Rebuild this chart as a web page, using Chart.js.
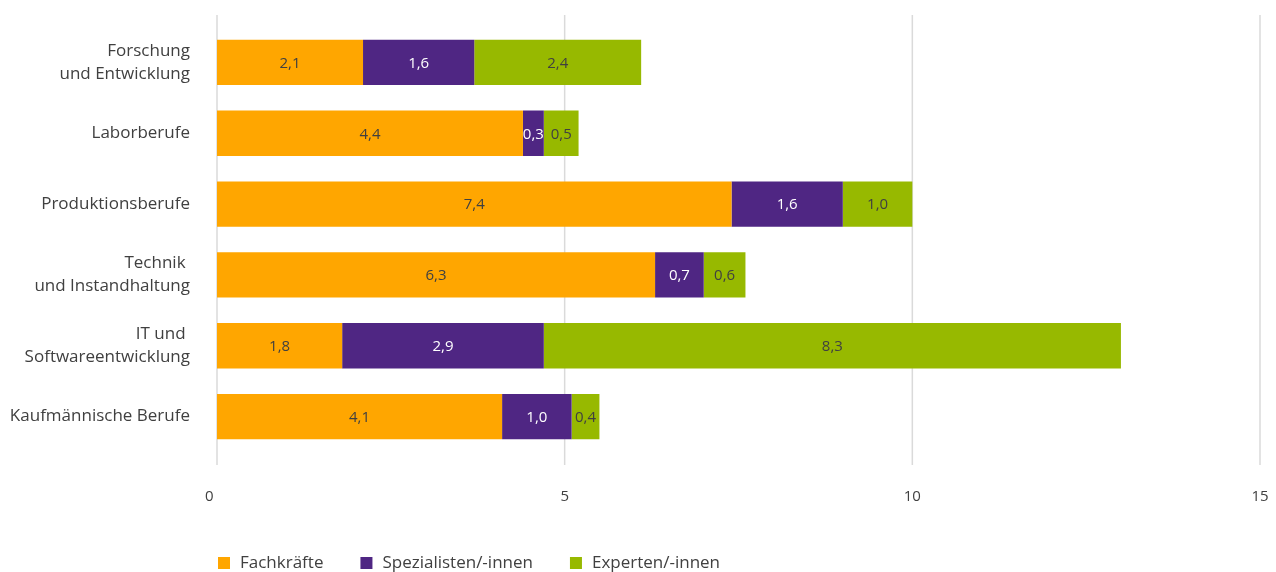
<!DOCTYPE html>
<html lang="de">
<head>
<meta charset="utf-8">
<title>Engpassberufe nach Anforderungsniveau</title>
<script src="https://cdn.jsdelivr.net/npm/chart.js@4.4.1/dist/chart.umd.min.js"></script>
<style>
  html, body { margin: 0; padding: 0; background: #ffffff; }
  #wrap { width: 1276px; height: 572px; position: relative; }
</style>
</head>
<body>
<div id="wrap"><canvas id="chart"></canvas></div>
<script>
// Berufsgruppen (mehrzeilige Beschriftungen als Arrays)
const categories = [
  ['Forschung', 'und Entwicklung'],
  'Laborberufe',
  'Produktionsberufe',
  ['Technik ', 'und Instandhaltung'],
  ['IT und ', 'Softwareentwicklung'],
  'Kaufmännische Berufe'
];

// Werte je Anforderungsniveau
const fachkraefte  = [2.1, 4.4, 7.4, 6.3, 1.8, 4.1];
const spezialisten = [1.6, 0.3, 1.6, 0.7, 2.9, 1.0];
const experten     = [2.4, 0.5, 1.0, 0.6, 8.3, 0.4];

const seriesNames = ['Fachkräfte', 'Spezialisten/-innen', 'Experten/-innen'];

// x-Achse
const xMin = 0;
const xMax = 15;
const xStep = 5;

const seriesColors = ['#FFA600', '#4F2683', '#97B900'];
const valueTextColors = ['#404040', '#ffffff', '#404040'];
const textColor = '#404040';
const gridColor = '#dadada';
const fontFamily = "'Open Sans', 'Noto Sans', sans-serif";

const formatValue = v => v.toFixed(1).replace('.', ',');

// Vertikale Rasterlinien, etwas über die Zeichenfläche hinaus verlängert
const gridLines = {
  id: 'gridLines',
  beforeDatasetsDraw(chart) {
    const { ctx, chartArea } = chart;
    const xs = chart.scales.x;
    ctx.save();
    ctx.strokeStyle = gridColor;
    ctx.lineWidth = 1.5;
    xs.ticks.forEach(t => {
      const px = xs.getPixelForValue(t.value);
      ctx.beginPath();
      ctx.moveTo(px, chartArea.top - 12);
      ctx.lineTo(px, chartArea.bottom + 13);
      ctx.stroke();
    });
    ctx.restore();
  }
};

// Wertebeschriftung mittig in jedem Balkensegment
const valueLabels = {
  id: 'valueLabels',
  afterDatasetsDraw(chart) {
    const { ctx } = chart;
    ctx.save();
    ctx.font = `15px ${fontFamily}`;
    ctx.textAlign = 'center';
    ctx.textBaseline = 'middle';
    chart.data.datasets.forEach((ds, di) => {
      const meta = chart.getDatasetMeta(di);
      ctx.fillStyle = valueTextColors[di];
      meta.data.forEach((el, i) => {
        const p = el.getProps(['x', 'y', 'base'], true);
        ctx.fillText(formatValue(ds.data[i]), (p.x + p.base) / 2, p.y + 1);
      });
    });
    ctx.restore();
  }
};

// Legende unten links, bündig mit der Zeichenfläche
const bottomLegend = {
  id: 'bottomLegend',
  afterDraw(chart) {
    const { ctx, chartArea } = chart;
    const box = 12;
    const gap = 10;
    const itemGap = 37;
    const cy = chart.height - 9;
    let x = chartArea.left + 1;
    ctx.save();
    ctx.font = `17px ${fontFamily}`;
    ctx.textAlign = 'left';
    ctx.textBaseline = 'middle';
    chart.data.datasets.forEach(ds => {
      ctx.fillStyle = ds.backgroundColor;
      ctx.fillRect(x, cy - box / 2, box, box);
      ctx.fillStyle = textColor;
      const tx = x + box + gap;
      ctx.fillText(ds.label, tx, cy);
      x = tx + ctx.measureText(ds.label).width + itemGap;
    });
    ctx.restore();
  }
};

const seriesData = [fachkraefte, spezialisten, experten];

new Chart(document.getElementById('chart'), {
  type: 'bar',
  data: {
    labels: categories,
    datasets: seriesData.map((d, i) => ({
      label: seriesNames[i],
      data: d,
      backgroundColor: seriesColors[i],
      borderWidth: 0,
      barPercentage: 0.64,
      categoryPercentage: 1
    }))
  },
  options: {
    indexAxis: 'y',
    responsive: true,
    maintainAspectRatio: false,
    animation: false,
    layout: { padding: { top: 27, right: 16, bottom: 65, left: 0 } },
    plugins: {
      legend: { display: false },
      tooltip: { enabled: false }
    },
    scales: {
      x: {
        stacked: true,
        min: xMin,
        max: xMax,
        // Abstand der Beschriftung über die (unsichtbare) Tick-Länge
        grid: { display: false, drawTicks: true, tickLength: 36 },
        border: { display: false },
        ticks: {
          stepSize: xStep,
          padding: 0,
          maxRotation: 0,
          color: textColor,
          font: { family: fontFamily, size: 15 },
          callback: v => (v === 0 ? '0    ' : String(v))
        },
        afterFit(scale) { scale.height = 55; }
      },
      y: {
        stacked: true,
        grid: { display: false, drawTicks: true, tickLength: 27 },
        border: { display: false },
        ticks: {
          padding: 0,
          color: textColor,
          font: { family: fontFamily, size: 17, lineHeight: 1.35 }
        },
        afterFit(scale) { scale.width = 217; }
      }
    }
  },
  plugins: [gridLines, valueLabels, bottomLegend]
});
</script>
</body>
</html>
